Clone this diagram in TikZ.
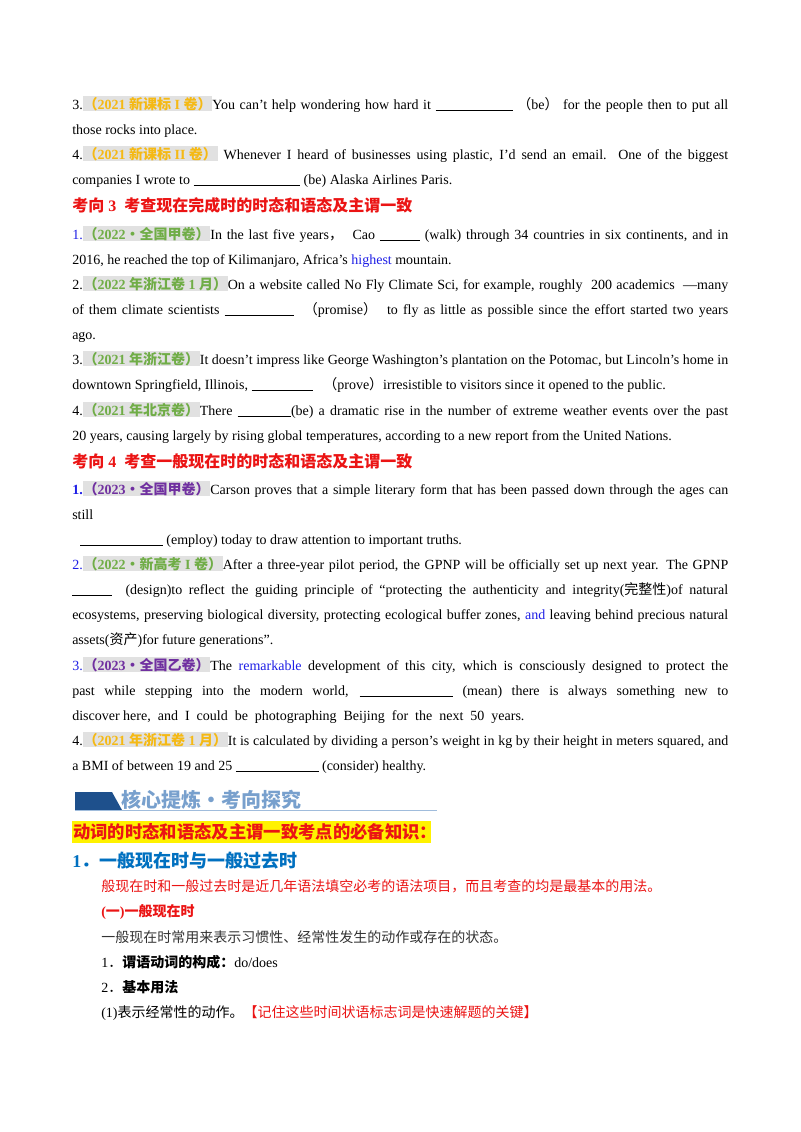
\documentclass[tikz,border=0pt]{standalone}
\usepackage{fontspec}
\setmainfont{Liberation Serif}
\newfontfamily\cjk{Noto Sans CJK SC}
\newcommand{\z}[1]{{\cjk #1}}
\definecolor{labbg}{RGB}{225,225,225}
\definecolor{lorange}{RGB}{245,185,20}
\definecolor{lgreen}{RGB}{112,173,71}
\definecolor{lpurple}{RGB}{112,48,160}
\definecolor{nblue}{RGB}{30,30,230}
\definecolor{hred}{RGB}{235,20,20}
\definecolor{hblue}{RGB}{0,112,192}
\definecolor{bandark}{RGB}{30,80,140}
\definecolor{banlight}{RGB}{120,160,205}
\newcommand{\lab}[2]{{\setlength\fboxsep{0.6pt}\colorbox{labbg}{\textcolor{#1}{\bfseries #2}}}}
\newcommand{\J}[1]{\hbox to 492pt{#1}}
\newcommand{\bl}[1]{\rule[-1.5pt]{#1}{0.5pt}}
\newcommand{\bbl}[1]{\rule[-1.5pt]{#1}{1.1pt}}
\begin{document}
\begin{tikzpicture}[x=0.75pt,y=-0.75pt,
  ln/.style={anchor=base west,inner sep=0pt,font=\fontsize{10.5pt}{12pt}\selectfont},
  hd/.style={anchor=base west,inner sep=0pt,font=\fontsize{12pt}{14pt}\selectfont\bfseries}]
\useasboundingbox[fill=white] (0,0) rectangle (800,1132);
\node[ln] (a1) at (72,109) {\J{3.\lab{lorange}{\z{（}2021 \z{新课标} I \z{卷）}}You can’t help wondering how hard it \bl{58pt} \z{（}be\z{）} for the people then to put all}};
\node[ln] (a2) at (72,134) {those rocks into place.};
\node[ln] (a3) at (72,159) {\J{4.\lab{lorange}{\z{（}2021 \z{新课标} II \z{卷）}} Whenever I heard of businesses using plastic, I'd send an email. One of the biggest}};
\node[ln] (a4) at (72,184) {companies I wrote to \bl{80pt} (be) Alaska Airlines Paris.};
\node[hd,text=hred] (h3) at (72,211) {\z{考向} 3\ \ \z{考查现在完成时的时态和语态及主谓一致}};
\node[ln] (b1) at (72,239) {\J{\textcolor{nblue}{1.}\lab{lgreen}{\z{（}2022\z{•全国甲卷）}}In the last five years\z{，}\ \ Cao \bbl{30pt} (walk) through 34 countries in six continents, and in}};
\node[ln] (b2) at (72,264) {2016, he reached the top of Kilimanjaro, Africa’s \textcolor{nblue}{highest} mountain.};
\node[ln] (b3) at (72,289) {\J{2.\lab{lgreen}{\z{（}2022 \z{年浙江卷} 1 \z{月）}}On a website called No Fly Climate Sci, for example, roughly\ \ 200 academics\ \ —many}};
\node[ln] (b4) at (72,314) {\J{of them climate scientists \bl{52pt}\ \ \z{（}promise\z{）}\ \ to fly as little as possible since the effort started two years}};
\node[ln] (b5) at (72,339) {ago.};
\node[ln] (b6) at (72,364) {\J{3.\lab{lgreen}{\z{（}2021 \z{年浙江卷）}}It doesn't impress like George Washington's plantation on the Potomac, but Lincoln's home in}};
\node[ln] (b7) at (72,389) {downtown Springfield, Illinois, \bl{46pt}\ \ \ \z{（}prove\z{）}irresistible to visitors since it opened to the public.};
\node[ln] (b8) at (72,415) {\J{4.\lab{lgreen}{\z{（}2021 \z{年北京卷）}}There \bl{40pt}(be) a dramatic rise in the number of extreme weather events over the past}};
\node[ln] (b9) at (72,440) {20 years, causing largely by rising global temperatures, according to a new report from the United Nations.};
\node[hd,text=hred] (h4) at (72,467) {\z{考向} 4\ \ \z{考查一般现在时的时态和语态及主谓一致}};
\node[ln] (c1) at (72,494) {\J{\textcolor{nblue}{\bfseries 1.}\lab{lpurple}{\z{（}2023\z{·全国甲卷）}}Carson proves that a simple literary form that has been passed down through the ages can}};
\node[ln] (c2) at (72,519) {still};
\node[ln] (c3) at (80,544) {\bl{62pt} (employ) today to draw attention to important truths.};
\node[ln] (c4) at (72,569) {\J{\textcolor{nblue}{2.}\lab{lgreen}{\z{（}2022\z{•新高考} I \z{卷）}}After a three-year pilot period, the GPNP will be officially set up next year. The GPNP}};
\node[ln] (c5) at (72,594) {\J{\bbl{30pt}\ \ (design)to reflect the guiding principle of “protecting the authenticity and integrity(\z{完整性})of natural}};
\node[ln] (c6) at (72,619) {\J{ecosystems, preserving biological diversity, protecting ecological buffer zones, \textcolor{nblue}{and} leaving behind precious natural}};
\node[ln] (c7) at (72,644) {assets(\z{资产})for future generations”.};
\node[ln] (c8) at (72,670) {\J{\textcolor{nblue}{3.}\lab{lpurple}{\z{（}2023\z{·全国乙卷）}}The \textcolor{nblue}{remarkable} development of this city, which is consciously designed to protect the}};
\node[ln] (c9) at (72,695) {\J{past while stepping into the modern world, \bbl{70pt} (mean) there is always something new to}};
\node[ln] (c10) at (72,720) {discover here,\ \ and\ \ I\ \ could\ \ be\ \ photographing\ \ Beijing\ \ for\ \ the\ \ next\ \ 50\ \ years.};
\node[ln] (c11) at (72,745) {\J{4.\lab{lorange}{\z{（}2021 \z{年浙江卷} 1 \z{月）}}It is calculated by dividing a person’s weight in kg by their height in meters squared, and}};
\node[ln] (c12) at (72,770) {a BMI of between 19 and 25 \bbl{62pt} (consider) healthy.};
% banner
\fill[bandark] (75,792) -- (112,792) -- (122,810) -- (75,810) -- cycle;
\draw[banlight!70,line width=0.8pt] (75,810.5) -- (437,810.5);
\node[anchor=base west,inner sep=0pt,text=banlight,font=\fontsize{15pt}{17pt}\selectfont\bfseries\cjk] (ban) at (121,807) {核心提炼·考向探究};
\fill[yellow] (72,821) rectangle (431,843);
\node[hd,text=hred,font=\fontsize{13pt}{15pt}\selectfont\bfseries] (know) at (73,838) {\z{动词的时态和语态及主谓一致考点的必备知识：}};
\node[hd,text=hblue,font=\fontsize{13.5pt}{15pt}\selectfont\bfseries] (s1) at (72,867) {1\z{．一般现在时与一般过去时}};
\node[ln,text=hred] (d1) at (101,891) {\z{般现在时和一般过去时是近几年语法填空必考的语法项目，而且考查的均是最基本的用法。}};
\node[ln,text=hred] (d2) at (101,916) {\bfseries(\z{一})\z{一般现在时}};
\node[ln,text=black!80] (d3) at (101,942) {\z{一般现在时常用来表示习惯性、经常性发生的动作或存在的状态。}};
\node[ln] (d4) at (101,967) {1\z{．\textbf{谓语动词的构成：}}do/does};
\node[ln] (d5) at (101,992) {2\z{．\textbf{基本用法}}};
\node[ln] (d6) at (101,1017) {(1)\z{表示经常性的动作。\textcolor{hred}{【记住这些时间状语标志词是快速解题的关键】}}};
\end{tikzpicture}
\end{document}
